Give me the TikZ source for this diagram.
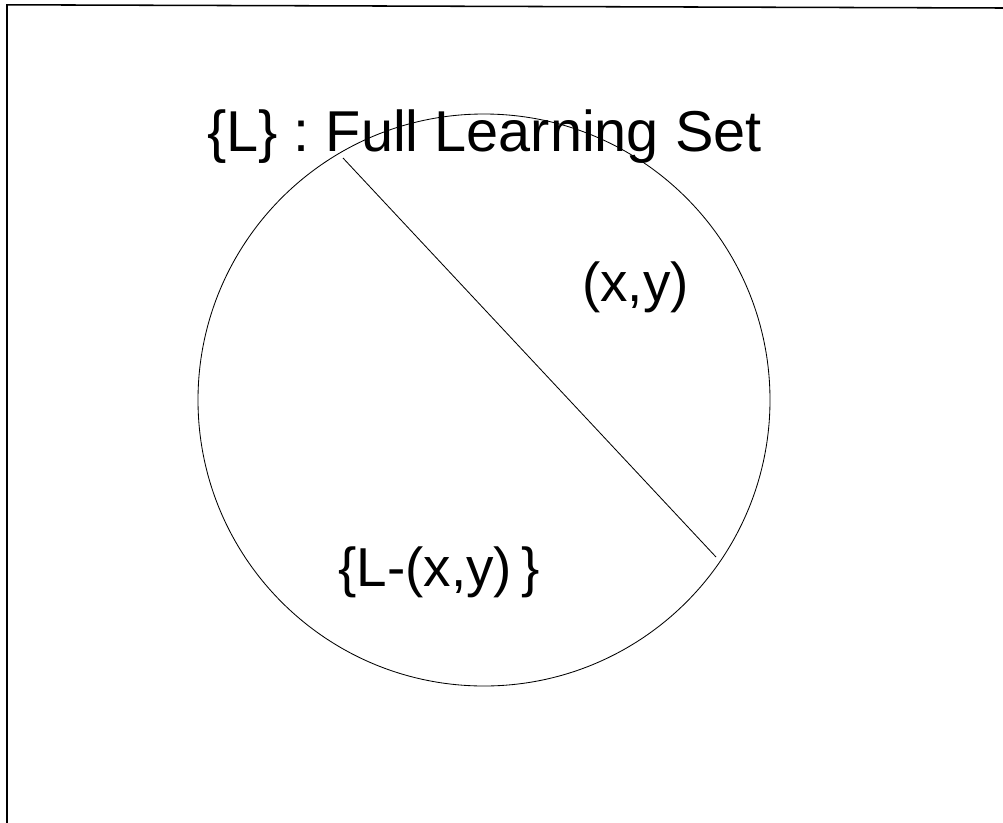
\documentclass[tikz,border=0pt]{standalone}
\usepackage{fontspec}
\setmainfont{Liberation Sans}
\usepackage{tikz}
\usetikzlibrary{positioning}

\tikzset{
  settext/.style={font=\fontsize{39}{46}\selectfont, inner sep=0pt, anchor=base west},
  titletext/.style={font=\fontsize{41}{48}\selectfont, inner sep=0pt, anchor=base west},
  outline/.style={line width=0.6pt, black}
}

\begin{document}
\begin{tikzpicture}
  \useasboundingbox (0,0) rectangle (25.075,-20.575);

  % frame (left and top edge only)
  \draw[line width=1.1pt] (0.175,-20.575) -- (0.175,-0.12) -- (25.075,-0.2);

  % the full learning set
  \node[circle, draw, outline, minimum size=14.3cm, inner sep=0pt] (learnset) at (12.1,-10.0) {};

  % split of one sample
  \coordinate (cuttop) at (8.575,-3.95);
  \coordinate (cutend) at (17.9,-13.925);
  \draw[outline] (cuttop) -- (cutend);

  % Labels
  \node[titletext] (fullset) at (5.175,-3.775) {\{L\} : Full Learning Set};
  \node[settext] (onesample) at (14.55,-7.525) {(x,y)};
  \node[settext] (restset) at (8.45,-14.65) {\{L-(x,y)\,\}};
\end{tikzpicture}
\end{document}
